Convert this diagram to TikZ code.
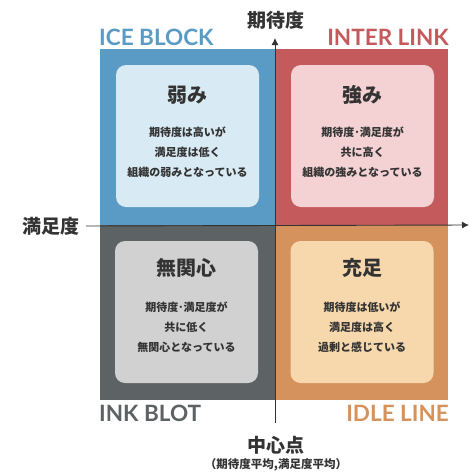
\documentclass[tikz,border=0pt]{standalone}
\usepackage{fontspec}
\setmainfont{Lato}
\newfontfamily\jp{Noto Sans CJK JP}
\usetikzlibrary{positioning,arrows.meta}

\definecolor{iceblue}{HTML}{5A9BC5}
\definecolor{icepale}{HTML}{D8EAF3}
\definecolor{interred}{HTML}{C45A5C}
\definecolor{interpale}{HTML}{F4D1D3}
\definecolor{inkgray}{HTML}{5D6265}
\definecolor{inkpale}{HTML}{D1D1D1}
\definecolor{idleorange}{HTML}{D5925C}
\definecolor{idlepale}{HTML}{F7D8AD}
\definecolor{textdark}{HTML}{333333}

\tikzset{
  innerbox/.style={rounded corners=10pt, minimum width=143pt, minimum height=142pt, inner sep=0pt},
  boxtitle/.style={text=textdark, font=\jp\bfseries\fontsize{20}{24}\selectfont, inner sep=0pt},
  boxbody/.style={text=textdark, align=center, font=\jp\bfseries\fontsize{11}{20}\selectfont, inner sep=0pt},
  cornerlabel/.style={font=\bfseries\fontsize{22.5}{28}\selectfont, inner sep=0pt},
  axislabel/.style={text=textdark, font=\jp\bfseries\fontsize{19}{22}\selectfont, inner sep=0pt},
  axis/.style={draw=textdark, line width=0.9pt}
}

\begin{document}
\begin{tikzpicture}[x=1pt,y=-1pt]
                \useasboundingbox (0,0) rectangle (469,475);
                % quadrants
                \fill[iceblue] (100,49) rectangle (275,225);
                \fill[interred] (275,49) rectangle (448,225);
                \fill[inkgray] (100,225) rectangle (275,400);
                \fill[idleorange] (275,225) rectangle (448,400);
                % inner boxes
                \node[innerbox, fill=icepale] (weak) at (187.5,136) {};
                \node[innerbox, fill=interpale] (strong) at (362.5,136) {};
                \node[innerbox, fill=inkpale] (apathy) at (186.5,312) {};
                \node[innerbox, fill=idlepale] (satisfied) at (362,312) {};
                \node[boxtitle] (weakt) at ([yshift=41pt]weak.center) {弱み};
                \node[boxbody] (weakb) at ([yshift=-16pt]weak.center) {期待度は高いが\\満足度は低く\\組織の弱みとなっている};
                \node[boxtitle] (strongt) at ([yshift=41pt]strong.center) {強み};
                \node[boxbody] (strongb) at ([yshift=-16pt]strong.center) {期待度･満足度が\\共に高く\\組織の強みとなっている};
                \node[boxtitle] (apathyt) at ([yshift=44pt]apathy.center) {無関心};
                \node[boxbody] (apathyb) at ([yshift=-15pt]apathy.center) {期待度･満足度が\\共に低く\\無関心となっている};
                \node[boxtitle] (satisfiedt) at ([yshift=44pt]satisfied.center) {充足};
                \node[boxbody] (satisfiedb) at ([yshift=-15pt]satisfied.center) {期待度は低いが\\満足度は高く\\過剰と感じている};
                % corner labels
                \node[cornerlabel, text=iceblue, anchor=base west] (ice) at (99,45) {ICE BLOCK};
                \node[cornerlabel, text=interred, anchor=base east] (inter) at (449,45) {INTER LINK};
                \node[cornerlabel, text=inkgray, anchor=base west] (ink) at (99,421) {INK BLOT};
                \node[cornerlabel, text=idleorange, anchor=base east] (idle) at (449,421) {IDLE LINE};
                % axis
                \node[axislabel] (expect) at (276,20) {期待度};
                \node[axislabel, anchor=east] (satis) at (80,226) {満足度};
                \node[axislabel] (center) at (276,445) {中心点};
                \node[text=textdark, font=\jp\bfseries\fontsize{11.5}{13}\selectfont, inner sep=0pt, below=4pt of center] (centernote) {（期待度平均,満足度平均）};
                \coordinate (xend) at (469,225);
                \coordinate (ytop) at (275,38);
                \coordinate (ybot) at (275,423);
                \draw[axis, -{Latex[length=7pt,width=7pt]}] ([xshift=6pt]satis.east) -- (xend);
                \draw[axis, -{Latex[length=7pt,width=7pt]}] (ybot) -- (ytop);
            \end{tikzpicture}
\end{document}
